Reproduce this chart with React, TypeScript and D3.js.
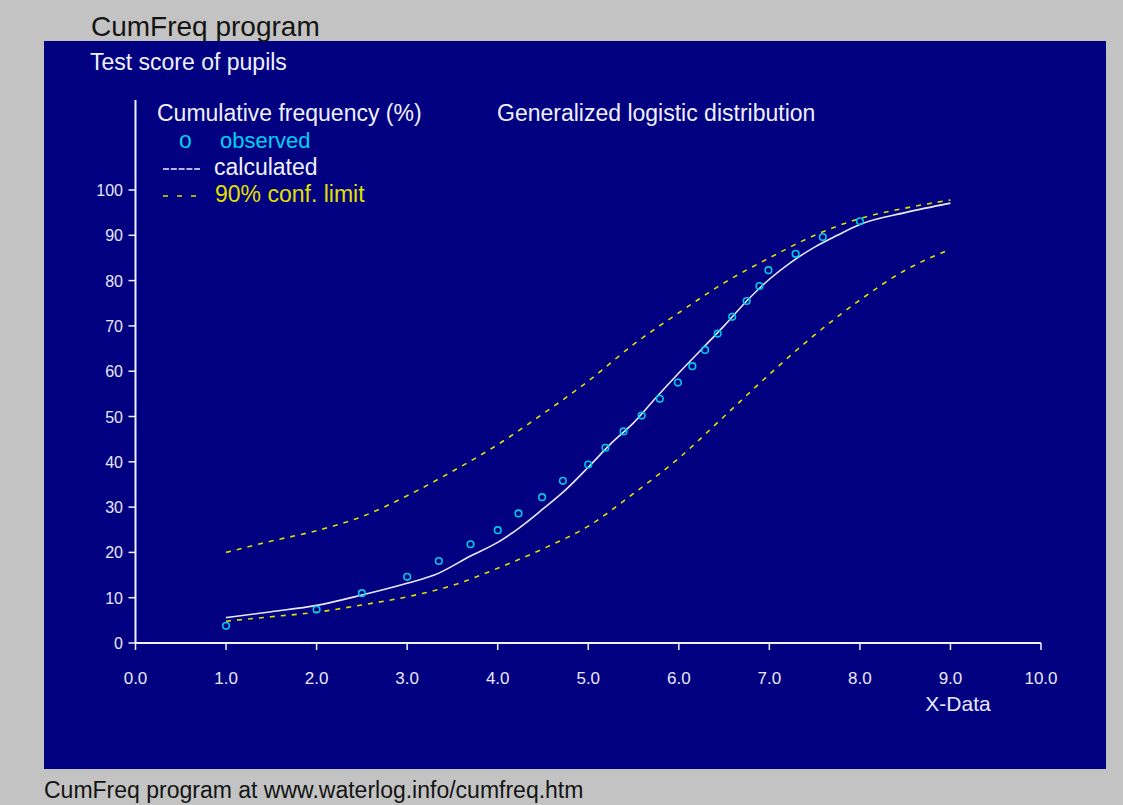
import React, { useEffect, useRef } from "react";
import * as d3 from "d3";

// observed points (x, cumulative %)
const obsX = [1.0, 2.0, 2.5, 3.0, 3.35, 3.7, 4.0, 4.23, 4.49, 4.72, 5.0, 5.19, 5.39, 5.59, 5.79, 5.99, 6.15, 6.29, 6.43, 6.59, 6.75, 6.89, 6.99, 7.29, 7.59, 8.0];
const obsY = [3.8, 7.4, 11.0, 14.6, 18.1, 21.8, 24.9, 28.6, 32.2, 35.8, 39.4, 43.1, 46.7, 50.2, 53.9, 57.5, 61.1, 64.7, 68.3, 72.0, 75.5, 78.8, 82.3, 85.9, 89.6, 93.1];

// calculated curve
const calcX = [1.0, 1.5, 2.0, 2.5, 3.0, 3.3, 3.7, 4.0, 4.25, 4.5, 4.75, 5.0, 5.25, 5.5, 5.75, 6.0, 6.25, 6.5, 6.75, 7.0, 7.25, 7.5, 7.75, 8.0, 8.5, 9.0];
const calcY = [5.6, 6.9, 8.3, 10.6, 13.2, 15.0, 19.2, 22.2, 25.6, 29.6, 33.8, 38.8, 44.0, 48.6, 54.2, 59.6, 64.8, 70.0, 75.5, 80.3, 84.2, 87.4, 90.0, 92.4, 95.0, 97.1];

// 90% confidence limits
const confX = [1.0, 1.5, 2.0, 2.5, 3.0, 3.5, 4.0, 4.5, 5.0, 5.5, 6.0, 6.5, 7.0, 7.5, 8.0, 8.5, 9.0];
const upperY = [20.0, 22.5, 24.8, 27.9, 32.5, 37.9, 43.8, 50.6, 57.8, 65.9, 72.9, 79.5, 85.0, 90.0, 93.7, 96.0, 97.8];
const lowerY = [4.8, 5.8, 6.8, 8.4, 10.2, 12.7, 16.5, 20.8, 25.8, 33.0, 40.8, 50.0, 59.3, 68.0, 75.7, 82.3, 86.9];

const xTicks = [0, 1, 2, 3, 4, 5, 6, 7, 8, 9, 10];
const yTicks = [0, 10, 20, 30, 40, 50, 60, 70, 80, 90, 100];

const W = 1123;
const H = 805;
const FONT = "'Liberation Sans', Arial, sans-serif";

export default function App() {
  const svgRef = useRef<SVGSVGElement>(null);

  useEffect(() => {
    const svg = d3.select(svgRef.current);
    svg.selectAll("*").remove();

    // background + panel
    svg.append("rect").attr("width", W).attr("height", H).attr("fill", "#c3c3c3");
    svg.append("rect").attr("x", 44).attr("y", 41).attr("width", 1062).attr("height", 728).attr("fill", "#000080");

    svg.append("text").attr("x", 91).attr("y", 36).attr("font-size", 28).attr("fill", "#141414").text("CumFreq program");
    svg.append("text").attr("x", 44).attr("y", 798).attr("font-size", 23).attr("fill", "#141414").text("CumFreq program at www.waterlog.info/cumfreq.htm");
    svg.append("text").attr("x", 90).attr("y", 70).attr("font-size", 23).attr("fill", "#f0f0ff").text("Test score of pupils");

    // scales
    const x = d3.scaleLinear().domain([0, 10]).range([135.5, 1041]);
    const y = d3.scaleLinear().domain([0, 100]).range([643, 190]);

    // axes
    const axisColor = "#f0f0ff";
    svg.append("line").attr("x1", x(0)).attr("x2", x(0)).attr("y1", 100).attr("y2", y(0)).attr("stroke", axisColor).attr("stroke-width", 2);
    svg.append("line").attr("x1", x(0)).attr("x2", x(10)).attr("y1", y(0)).attr("y2", y(0)).attr("stroke", axisColor).attr("stroke-width", 2);

    svg.selectAll(".ytick").data(yTicks).join("line")
      .attr("x1", x(0) - 7).attr("x2", x(0)).attr("y1", (d) => y(d)).attr("y2", (d) => y(d))
      .attr("stroke", axisColor).attr("stroke-width", 1.5);
    svg.selectAll(".ylab").data(yTicks).join("text")
      .attr("x", 123).attr("y", (d) => y(d) + 6).attr("text-anchor", "end")
      .attr("font-size", 16).attr("fill", "#e8e8ff").text((d) => d);

    svg.selectAll(".xtick").data(xTicks).join("line")
      .attr("x1", (d) => x(d)).attr("x2", (d) => x(d)).attr("y1", y(0)).attr("y2", y(0) + 7)
      .attr("stroke", axisColor).attr("stroke-width", 1.5);
    svg.selectAll(".xlab").data(xTicks).join("text")
      .attr("x", (d) => x(d)).attr("y", 684).attr("text-anchor", "middle")
      .attr("font-size", 17).attr("fill", "#e8e8ff").text((d) => d.toFixed(1));
    svg.append("text").attr("x", 958).attr("y", 711).attr("text-anchor", "middle")
      .attr("font-size", 21).attr("fill", "#e8e8ff").text("X-Data");

    // legend
    svg.append("text").attr("x", 157).attr("y", 121).attr("font-size", 23).attr("fill", "#f0f0ff").text("Cumulative frequency (%)");
    svg.append("text").attr("x", 497).attr("y", 121).attr("font-size", 23).attr("fill", "#f0f0ff").text("Generalized logistic distribution");
    svg.append("text").attr("x", 179).attr("y", 148).attr("font-size", 23).attr("fill", "#00d0f0").text("o");
    svg.append("text").attr("x", 220).attr("y", 148).attr("font-size", 22).attr("fill", "#00d0f0").text("observed");
    svg.append("line").attr("x1", 163).attr("x2", 200).attr("y1", 169).attr("y2", 169).attr("stroke", "#f0f0ff").attr("stroke-width", 1.5).attr("stroke-dasharray", "6,1.8");
    svg.append("text").attr("x", 214).attr("y", 175).attr("font-size", 23).attr("fill", "#f0f0ff").text("calculated");
    svg.append("line").attr("x1", 163).attr("x2", 200).attr("y1", 196).attr("y2", 196).attr("stroke", "#e0e000").attr("stroke-width", 1.5).attr("stroke-dasharray", "5,9");
    svg.append("text").attr("x", 215).attr("y", 202).attr("font-size", 23).attr("fill", "#e0e000").text("90% conf. limit");

    const line = d3.line<[number, number]>()
      .x((d) => x(d[0]))
      .y((d) => y(d[1]))
      .curve(d3.curveMonotoneX);

    const conf = [upperY, lowerY];
    conf.forEach((ys) => {
      svg.append("path")
        .datum(confX.map((v, i) => [v, ys[i]] as [number, number]))
        .attr("d", line)
        .attr("fill", "none")
        .attr("stroke", "#e0e000")
        .attr("stroke-width", 1.6)
        .attr("stroke-dasharray", "5,6");
    });

    svg.append("path")
      .datum(calcX.map((v, i) => [v, calcY[i]] as [number, number]))
      .attr("d", line)
      .attr("fill", "none")
      .attr("stroke", "#e8e8ff")
      .attr("stroke-width", 1.6);

    svg.selectAll(".obs").data(obsX).join("circle")
      .attr("cx", (d) => x(d))
      .attr("cy", (d, i) => y(obsY[i]))
      .attr("r", 3.3)
      .attr("fill", "none")
      .attr("stroke", "#00c8e8")
      .attr("stroke-width", 1.6);
  }, []);

  return (
    <svg
      ref={svgRef}
      width={W}
      height={H}
      style={{ position: "absolute", left: 0, top: 0, fontFamily: FONT }}
    />
  );
}
